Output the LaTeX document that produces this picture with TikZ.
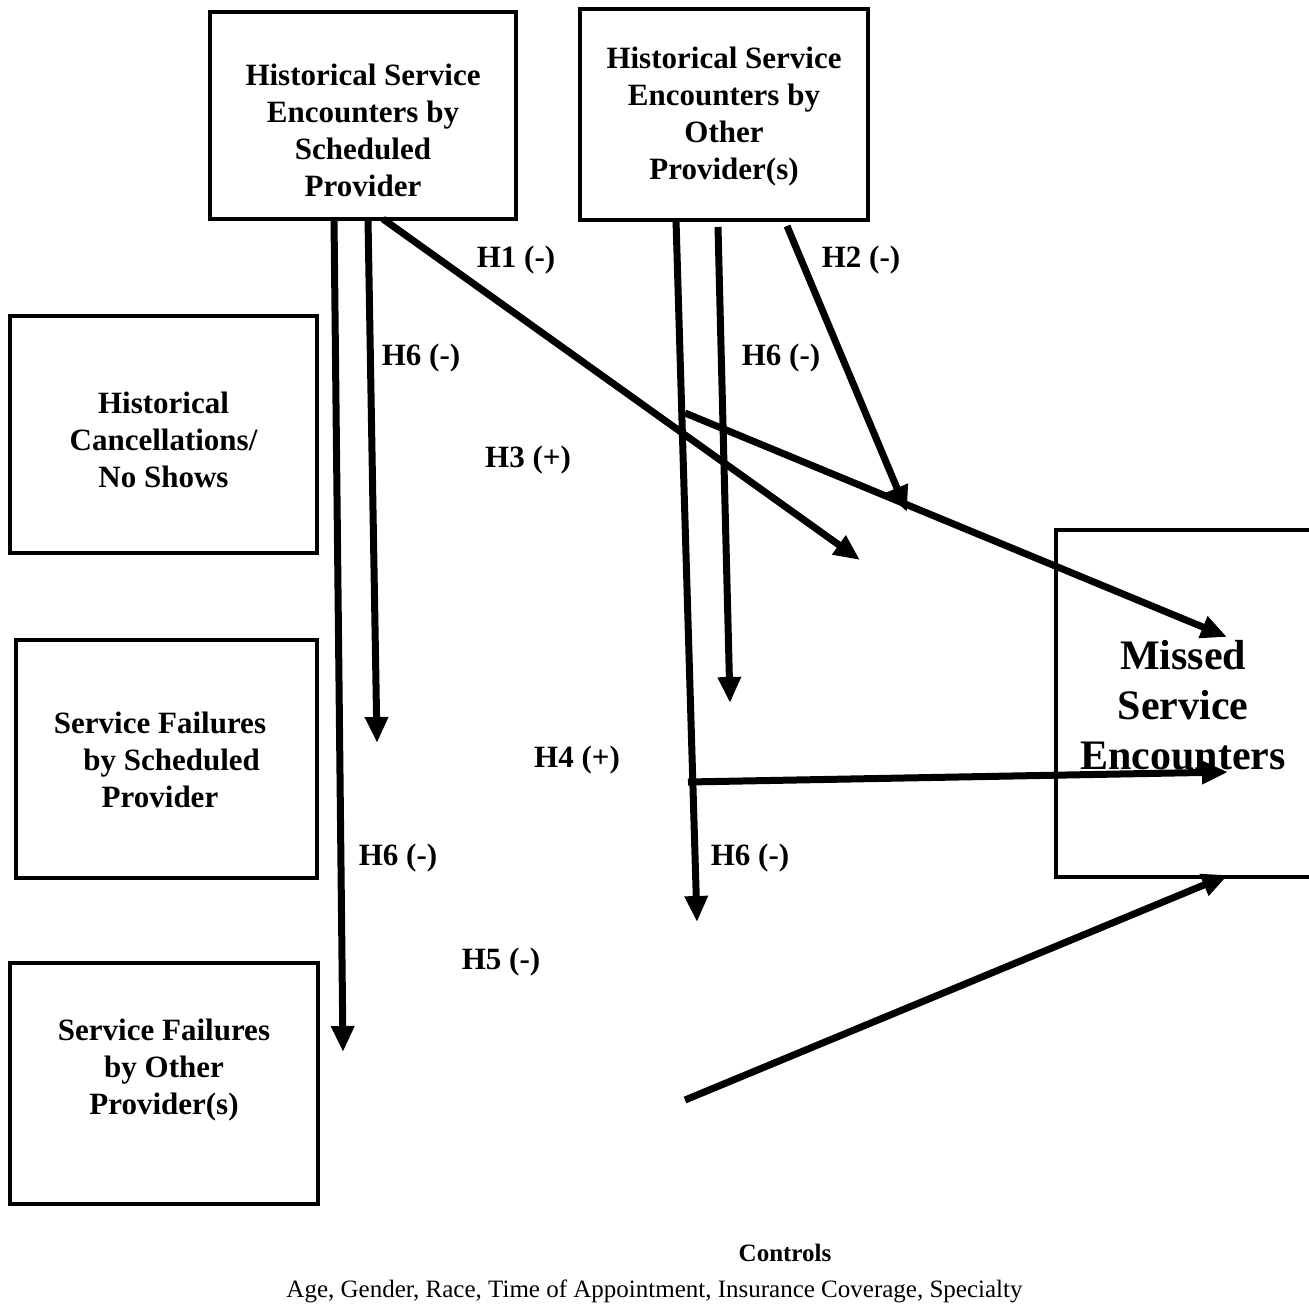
\documentclass[tikz,border=0pt]{standalone}
\usepackage{fontspec}
\setmainfont{Liberation Serif}
\usetikzlibrary{arrows.meta}
\tikzset{
  box/.style={draw, line width=4pt, inner sep=0pt},
  boxtext/.style={align=center, font=\fontsize{31}{37}\selectfont\bfseries, inner sep=0pt},
  hyp/.style={font=\fontsize{31}{37}\selectfont\bfseries, inner sep=0pt},
  link/.style={line width=7pt, -{Triangle[length=26pt,width=22pt]}},
}
\begin{document}
\begin{tikzpicture}[x=1pt,y=-1pt]
    \useasboundingbox (0,0) rectangle (1309,1312);

    % Boxes
    \node[box, minimum width=306pt, minimum height=207pt] (hsp) at (363,115.5) {};
    \node[box, minimum width=288pt, minimum height=211pt] (hop) at (724,114.5) {};
    \node[box, minimum width=307pt, minimum height=237pt] (hcn) at (163.5,434.5) {};
    \node[box, minimum width=301pt, minimum height=238pt] (sfs) at (166.5,759) {};
    \node[box, minimum width=308pt, minimum height=241pt] (sfo) at (164,1083.5) {};
    \node[box, minimum width=264pt, minimum height=347pt] (mse) at (1188,703.5) {};

    % Box texts
    \node[boxtext] (hsp-t) at (363,130) {Historical Service\\Encounters by\\Scheduled\\Provider};
    \node[boxtext] (hop-t) at (724,117) {Historical Service\\Encounters by\\Other\\Provider(s)};
    \node[boxtext] (hcn-t) at (163.5,440) {Historical\\Cancellations/\\No Shows};
    \node[boxtext] (sfs-t) at (160,760) {Service Failures\\\ \ \ by Scheduled\\Provider};
    \node[boxtext] (sfo-t) at (164,1070) {Service Failures\\by Other\\Provider(s)};
    \node[align=center, font=\fontsize{42}{50}\selectfont\bfseries, inner sep=0pt] (mse-t) at (1183,705) {Missed\\Service\\Encounters};

    % Free ends of the arrows
    \coordinate (s1) at (334,219);
    \coordinate (e1) at (343,1052);
    \coordinate (s2) at (368,219);
    \coordinate (e2) at (377,743);
    \coordinate (s3) at (383,219);
    \coordinate (e3) at (860,560);
    \coordinate (s4) at (676,220);
    \coordinate (e4) at (697,922);
    \coordinate (s5) at (718,227);
    \coordinate (e5) at (730,703);
    \coordinate (s6) at (787,226);
    \coordinate (e6) at (907,512);
    \coordinate (h3) at (685,413);
    \coordinate (h4) at (688,782);
    \coordinate (h5) at (685,1100);
    \coordinate (m3) at (1227,637);
    \coordinate (m4) at (1228,772);
    \coordinate (m5) at (1228,875);

    % Arrows
    \draw[link] (s1) -- (e1);
    \draw[link] (s2) -- (e2);
    \draw[link] (s3) -- (e3);
    \draw[link] (s4) -- (e4);
    \draw[link] (s5) -- (e5);
    \draw[link] (s6) -- (e6);
    \draw[link] (h3) -- (m3);
    \draw[link] (h4) -- (m4);
    \draw[link] (h5) -- (m5);

    % Labels
    \node[hyp] (l1) at (516,260) {H1 (-)};
    \node[hyp] (l2) at (861,260) {H2 (-)};
    \node[hyp] (l6a) at (421,358) {H6 (-)};
    \node[hyp] (l6b) at (781,358) {H6 (-)};
    \node[hyp] (l3) at (528,460) {H3 (+)};
    \node[hyp] (l4) at (577,760) {H4 (+)};
    \node[hyp] (l6c) at (398,858) {H6 (-)};
    \node[hyp] (l6d) at (750,858) {H6 (-)};
    \node[hyp] (l5) at (501,962) {H5 (-)};

    % Controls
    \node[font=\fontsize{25}{30}\selectfont\bfseries, inner sep=0pt] (ctl) at (785,1253) {Controls};
    \node[font=\fontsize{25}{30}\selectfont, inner sep=0pt] (ctl-t) at (654.5,1291) {Age, Gender, Race, Time of Appointment, Insurance Coverage, Specialty};
\end{tikzpicture}
\end{document}
